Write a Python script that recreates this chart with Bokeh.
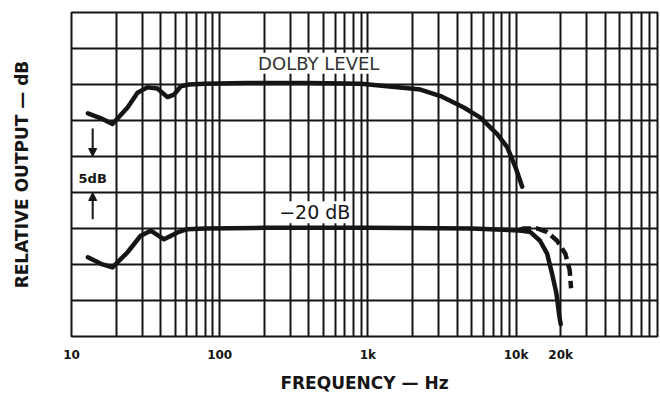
import numpy as np
from bokeh.plotting import figure
from bokeh.models import FixedTicker, Label, Arrow, NormalHead
from bokeh.embed import file_html
from bokeh.resources import INLINE

# ---- data ----
dolby_freq = [12.9, 15.8, 18.9, 23.9, 27.9, 32.5, 38.0, 44.4, 49.2, 54.6, 62, 80, 150, 400, 900,
              1580, 2260, 3090, 4440, 5740, 7460, 8710, 9910, 11000]
dolby_db = [-4.0, -4.7, -5.5, -3.2, -1.15, -0.4, -0.55, -1.75, -1.4, -0.25, 0.0, 0.1, 0.2, 0.2, 0.1,
            -0.37, -0.7, -1.6, -3.2, -4.6, -6.9, -8.7, -11.5, -14.2]

low_freq = [12.9, 15.8, 18.9, 23.9, 29.3, 34.3, 42.1, 51.9, 60.5, 80, 200, 1000, 5000, 9000,
            11000, 12500, 14500, 16200, 17500, 18700, 19600, 20000]
low_db = [-24.0, -24.9, -25.4, -23.3, -21.0, -20.3, -21.5, -20.55, -20.1, -20.0, -19.9, -19.9, -20.0, -20.2,
          -20.3, -20.5, -21.7, -23.5, -26.3, -29.0, -32.2, -33.3]

dash_freq = [10500, 11300, 13900, 16200, 18900, 21500, 23000, 23500]
dash_db = [-20.2, -20.0, -20.0, -20.5, -21.7, -23.5, -25.8, -28.3]

grid_freqs = [m * 10 ** d for d in range(1, 5) for m in range(1, 10)]
grid_db = list(range(-35, 11, 5))
tick_freqs = [10, 100, 1000, 10000, 20000]
tick_labels = ["10", "100", "1k", "10k", "20k"]

INK = "#151515"
FONT = "DejaVu Sans"

p = figure(width=660, height=395, x_axis_type="log", x_range=(10, 90000), y_range=(-35, 10),
           output_backend="svg", toolbar_location=None,
           min_border_left=71, min_border_right=3, min_border_top=12, min_border_bottom=54)
p.background_fill_color = "white"
p.border_fill_color = "white"
p.outline_line_color = INK
p.outline_line_width = 2

# grid
p.xgrid.ticker = FixedTicker(ticks=grid_freqs)
p.ygrid.ticker = FixedTicker(ticks=grid_db)
for g in (p.xgrid[0], p.ygrid[0]):
    g.grid_line_color = INK
    g.grid_line_width = 2
    g.grid_line_alpha = 1.0

# x axis
xa = p.xaxis[0]
xa.ticker = FixedTicker(ticks=tick_freqs)
xa.major_label_overrides = {f: l for f, l in zip(tick_freqs, tick_labels)}
xa.axis_line_color = None
xa.major_tick_line_color = None
xa.minor_tick_line_color = None
xa.major_label_standoff = 5
xa.major_label_text_font = FONT
xa.major_label_text_font_style = "bold"
xa.major_label_text_font_size = "12px"
xa.major_label_text_color = INK
xa.axis_label = "FREQUENCY \u2014 Hz"
xa.axis_label_standoff = 8
xa.axis_label_text_font = FONT
xa.axis_label_text_font_style = "bold"
xa.axis_label_text_font_size = "17px"
xa.axis_label_text_color = INK

# y axis: title only
ya = p.yaxis[0]
ya.ticker = FixedTicker(ticks=[])
ya.axis_line_color = None
ya.major_tick_line_color = None
ya.minor_tick_line_color = None
ya.major_label_text_font_size = "0px"
ya.axis_label = "RELATIVE OUTPUT \u2014 dB"
ya.axis_label_standoff = 40
ya.axis_label_text_font = FONT
ya.axis_label_text_font_style = "bold"
ya.axis_label_text_font_size = "17px"
ya.axis_label_text_color = INK

# curves
p.line(dolby_freq, dolby_db, line_color=INK, line_width=4.5, line_join="round", line_cap="round")
p.line(low_freq, low_db, line_color=INK, line_width=4.5, line_join="round", line_cap="round")
p.line(dash_freq, dash_db, line_color=INK, line_width=4.5, line_dash="12 5")

# annotations
p.add_layout(Label(x=466, y=2.96, text="DOLBY LEVEL", text_font=FONT, text_font_size="18px",
                   text_align="center", text_baseline="middle", text_color="#333",
                   background_fill_color="white"))
p.add_layout(Label(x=438, y=-17.75, text="\u221220 dB", text_font=FONT, text_font_size="19px",
                   text_align="center", text_baseline="middle", text_color=INK,
                   background_fill_color="white"))
p.add_layout(Label(x=13.9, y=-13.05, text="5dB", text_font=FONT, text_font_size="13px",
                   text_font_style="bold", text_align="center", text_baseline="middle", text_color=INK))
p.add_layout(Arrow(x_start=13.9, y_start=-6.1, x_end=13.9, y_end=-10, line_color=INK, line_width=2,
                   end=NormalHead(size=8, fill_color=INK, line_color=INK)))
p.add_layout(Arrow(x_start=13.9, y_start=-18.7, x_end=13.9, y_end=-15, line_color=INK, line_width=2,
                   end=NormalHead(size=8, fill_color=INK, line_color=INK)))

open("out.html", "w").write(file_html(p, INLINE))
